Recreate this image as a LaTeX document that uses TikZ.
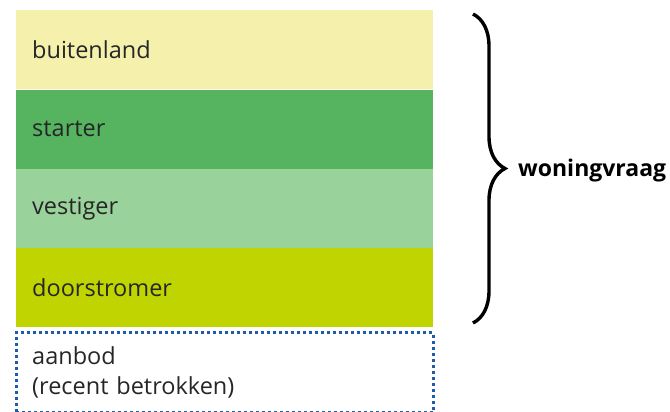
\documentclass[tikz,border=0pt]{standalone}
\usepackage{fontspec}
\setmainfont{Open Sans}
\usetikzlibrary{positioning,decorations.pathreplacing}

\definecolor{cbuiten}{HTML}{F5F1AD}
\definecolor{cstarter}{HTML}{56B461}
\definecolor{cvestiger}{HTML}{9AD29C}
\definecolor{cdoor}{HTML}{C0D401}
\definecolor{caanbod}{HTML}{1F5BAA}

\begin{document}
\begin{tikzpicture}[
  x=1pt, y=1pt,
  band/.style={rectangle, draw=none, inner xsep=16pt, inner ysep=0pt, text width=385pt, minimum height=79pt, align=left, font=\fontsize{23.5}{30}\selectfont, text=black!85, anchor=north west},
  supply/.style={band, fill=white, draw=caanbod, line width=3pt, dash pattern=on 3pt off 3pt, minimum height=80pt},
  node distance=0pt
]
\useasboundingbox (0,0) rectangle (670,412);

\node[band, fill=cbuiten] (buitenland) at (16,402) {buitenland};
\node[band, fill=cstarter, below=of buitenland] (starter) {starter};
\node[band, fill=cvestiger, below=of starter] (vestiger) {vestiger};
\node[band, fill=cdoor, below=of vestiger] (doorstromer) {doorstromer};
\node[supply, below=3.5pt of doorstromer] (aanbod) {aanbod\\(recent betrokken)};

% brace for the demand
\coordinate (bracetop) at (473,398);
\coordinate (bracebot) at (473,89);
\draw[line width=3.4pt, decorate, decoration={brace, amplitude=32pt}] (bracetop) -- (bracebot);
\node[font=\fontsize{23}{24}\selectfont\bfseries, anchor=west, inner sep=0pt] (vraag) at (518,241) {woningvraag};

\end{tikzpicture}
\end{document}
